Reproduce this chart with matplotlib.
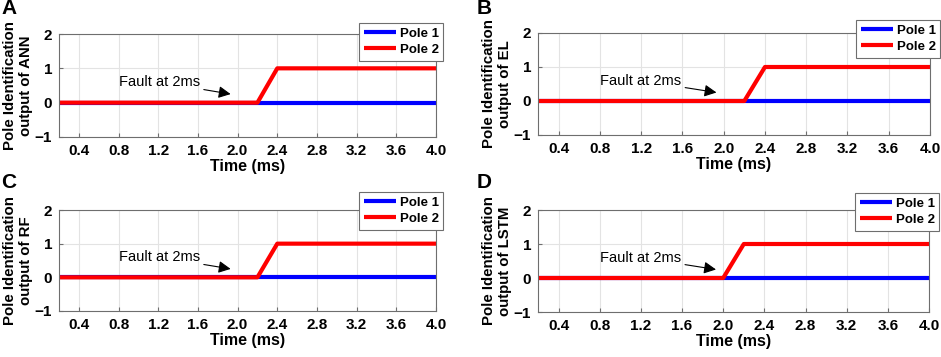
import matplotlib.pyplot as plt
import numpy as np

plt.rcParams['font.family'] = ['Liberation Sans', 'DejaVu Sans']

# panels: label, model name
letters = ["A", "B", "C", "D"]
models = ["ANN", "EL", "RF", "LSTM"]

# pole 1 stays at 0 the whole time
pole1_t = [0.2, 4.0]
pole1_v = [0, 0]

# pole 2 ramps up after the fault (time in ms)
pole2_t = [
    [0.2, 2.2, 2.4, 4.0],
    [0.2, 2.2, 2.4, 4.0],
    [0.2, 2.2, 2.4, 4.0],
    [0.2, 2.0, 2.2, 4.0],
]
pole2_v = [0, 0, 1, 1]

xticks = [0.4, 0.8, 1.2, 1.6, 2.0, 2.4, 2.8, 3.2, 3.6, 4.0]
yticks = [-1, 0, 1, 2]

W, H = 941, 357
# axes boxes in pixels: left, top, right, bottom
boxes = [(59, 34, 436, 137), (538, 33, 930, 135),
         (59, 210, 436, 311), (538, 210, 929, 312)]
legend_anchor = [(1.019, 1.107), (1.026, 1.127), (1.019, 1.178), (1.026, 1.167)]
letter_pos = [(1, -1), (477, -1), (1, 173), (477, 173)]
ylabel_x = [18, 497, 18, 497]

fig = plt.figure(figsize=(W / 100, H / 100), dpi=100)

for i in range(4):
    l, t, r, b = boxes[i]
    ax = fig.add_axes([l / W, (H - b) / H, (r - l) / W, (b - t) / H])
    ax.plot(pole1_t, pole1_v, color='#0000ff', lw=3, label='Pole 1', solid_capstyle='butt')
    ax.plot(pole2_t[i], pole2_v, color='#ff0000', lw=3, label='Pole 2', solid_capstyle='butt')
    ax.set_xlim(0.2, 4.0)
    ax.set_ylim(-1, 2)
    ax.set_xticks(xticks)
    ax.set_xticklabels(["%.1f" % x for x in xticks])
    ax.set_yticks(yticks)
    ax.grid(True, color='#e3e3e3', lw=0.8)
    ax.set_axisbelow(True)
    for s in ax.spines.values():
        s.set_color('#6e6e6e')
        s.set_linewidth(0.8)
    ax.tick_params(direction='in', length=3, color='#6e6e6e', labelsize=11, pad=5)
    for lab in ax.get_xticklabels() + ax.get_yticklabels():
        lab.set_fontweight('bold')
    ax.set_xlabel("Time (ms)", fontsize=11.5, fontweight='bold', labelpad=1)
    ax.set_ylabel("Pole Identification\noutput of " + models[i], fontsize=10.8,
                  fontweight='bold', linespacing=1.15, va='center')
    ax.yaxis.set_label_coords((ylabel_x[i] - l) / (r - l), 0.5)
    ax.annotate("Fault at 2ms", xy=(1.93, 0.25), xytext=(0.8, 0.6),
                fontsize=10.5, va='center', ha='left',
                arrowprops=dict(arrowstyle='-|>', color='black', lw=0.8,
                                mutation_scale=18, shrinkA=1, shrinkB=0))
    leg = ax.legend(loc='upper right', bbox_to_anchor=legend_anchor[i],
                    borderaxespad=0, fancybox=False, framealpha=1,
                    edgecolor='#6e6e6e', handlelength=2.4, handletextpad=0.3,
                    borderpad=0.35, labelspacing=0.3,
                    prop={'weight': 'bold', 'size': 9.5})
    leg.get_frame().set_linewidth(0.8)
    fig.text(letter_pos[i][0] / W, 1 - letter_pos[i][1] / H, letters[i],
             fontsize=15, fontweight='bold', ha='left', va='top')

fig.savefig("out.png", dpi=100)
